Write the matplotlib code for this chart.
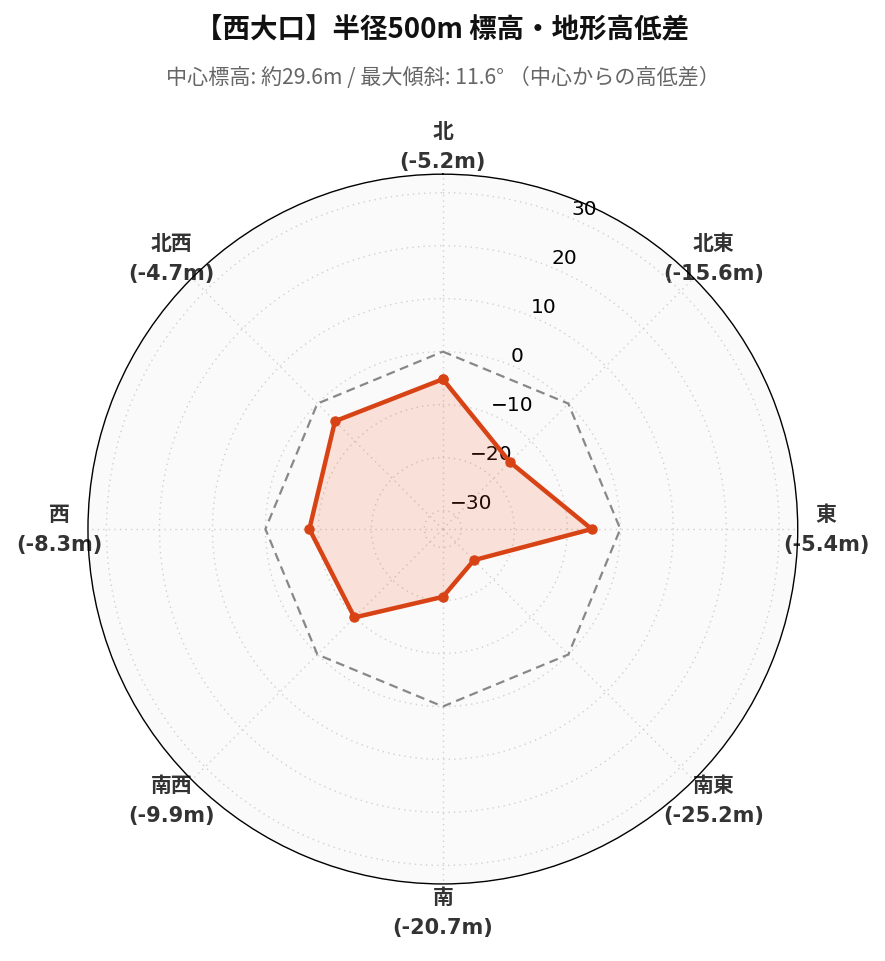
import numpy as np
import matplotlib
matplotlib.use("Agg")
import matplotlib.pyplot as plt

directions = ["北", "北東", "東", "南東", "南", "南西", "西", "北西"]
values = [-5.2, -15.6, -5.4, -25.2, -20.7, -9.9, -8.3, -4.7]
r_ticks = [-30, -20, -10, 0, 10, 20, 30]
r_min, r_max = -33.5, 33.5
title = "【西大口】半径500m 標高・地形高低差"
subtitle = "中心標高: 約29.6m / 最大傾斜: 11.6° （中心からの高低差）"

cjk = ["Noto Sans CJK JP", "DejaVu Sans"]
lab_fam = ["DejaVu Sans", "Noto Sans CJK JP"]

fig = plt.figure(figsize=(8.85, 9.62), dpi=100)
ax = fig.add_axes([0.0994, 0.080, 0.802, 0.738], projection="polar")
ax.set_theta_zero_location("N")
ax.set_theta_direction(-1)
ax.set_facecolor("#fafafa")

n = len(directions)
angles = np.arange(n) * 2 * np.pi / n
ang_c = np.concatenate([angles, angles[:1]])
val_c = np.concatenate([values, values[:1]])

ax.plot(ang_c, np.zeros_like(ang_c), color="#888888", lw=1.6, ls=(0, (4, 2.5)), zorder=2)
ax.fill(ang_c, val_c, color="#f4511e", alpha=0.15, zorder=3, lw=0)
ax.plot(ang_c, val_c, color="#d84315", lw=3.2, marker="o", ms=6.5, zorder=4)

ax.set_ylim(r_min, r_max)
ax.set_yticks(r_ticks)
ax.set_yticklabels([f"{t:d}".replace("-", "\u2212") for t in r_ticks], fontsize=14.5, family="DejaVu Sans")
ax.set_rlabel_position(22.5)

ax.set_xticks(angles)
ax.set_xticklabels([f"{d}\n({v:.1f}m)" for d, v in zip(directions, values)],
                   fontsize=15, fontweight="bold", color="#333333", family=lab_fam,
                   linespacing=1.62)
ax.tick_params(axis="x", pad=10)
ax.grid(color="#d0d0d0", ls=(0, (1, 3)), lw=1)
ax.spines["polar"].set_color("black")
ax.spines["polar"].set_linewidth(1.0)

fig.text(0.5, 0.968, title, ha="center", va="center", fontsize=19.8, fontweight="bold",
         family=cjk, color="#111111")
fig.text(0.5, 0.919, subtitle, ha="center", va="center", fontsize=15.2, family=cjk, color="#666666")

fig.savefig("out.png", dpi=100, facecolor="white")
